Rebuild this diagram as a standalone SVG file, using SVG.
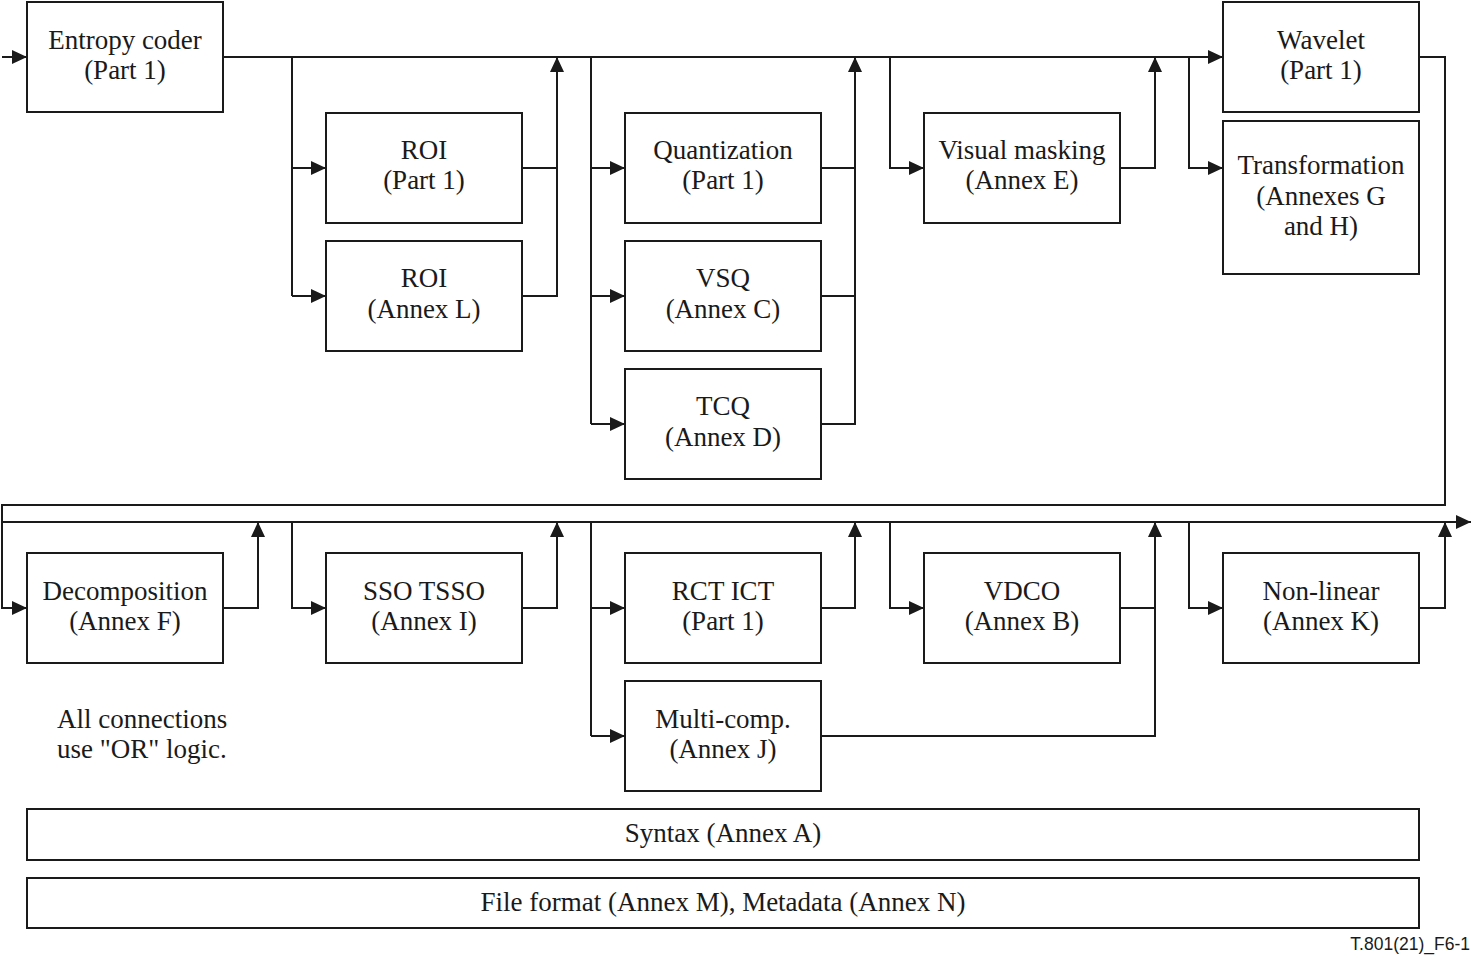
<svg xmlns="http://www.w3.org/2000/svg" width="1471" height="955" viewBox="0 0 1471 955">
<style>
.box{fill:#fff;stroke:#1a1a1a;stroke-width:2}
.ln{fill:none;stroke:#1a1a1a;stroke-width:2}
.t{font-family:"Liberation Serif","Times New Roman",serif;font-size:27px;fill:#1a1a1a;text-anchor:middle}
.tl{font-family:"Liberation Serif","Times New Roman",serif;font-size:27px;fill:#1a1a1a}
.f{font-family:"Liberation Sans",Arial,sans-serif;font-size:17.5px;fill:#1a1a1a;text-anchor:end}
</style>
<defs>
<marker id="ah" viewBox="0 0 15 14" refX="15" refY="7" markerWidth="15" markerHeight="14" markerUnits="userSpaceOnUse" orient="auto">
<path d="M0,0 L15,7 L0,14 Z" fill="#1a1a1a"/>
</marker>
</defs>
<rect width="1471" height="955" fill="#fff"/>
<g id="connectors" class="ln">
<path d="M2,57 H27" marker-end="url(#ah)"/>
<path d="M223,57 H1223" marker-end="url(#ah)"/>
<path d="M292,57 V296"/>
<path d="M292,168 H326" marker-end="url(#ah)"/>
<path d="M292,296 H326" marker-end="url(#ah)"/>
<path d="M522,168 H557"/>
<path d="M522,296 H557 V57" marker-end="url(#ah)"/>
<path d="M591,57 V424"/>
<path d="M591,168 H625" marker-end="url(#ah)"/>
<path d="M591,296 H625" marker-end="url(#ah)"/>
<path d="M591,424 H625" marker-end="url(#ah)"/>
<path d="M821,168 H855"/>
<path d="M821,296 H855"/>
<path d="M821,424 H855 V57" marker-end="url(#ah)"/>
<path d="M890,57 V168 H924" marker-end="url(#ah)"/>
<path d="M1120,168 H1155 V57" marker-end="url(#ah)"/>
<path d="M1189,57 V168 H1223" marker-end="url(#ah)"/>
<path d="M1419,57 H1445 V505 H2 V608 H27" marker-end="url(#ah)"/>
<path d="M2,522 H1471" marker-end="url(#ah)"/>
<path d="M223,608 H258 V522" marker-end="url(#ah)"/>
<path d="M292,522 V608 H326" marker-end="url(#ah)"/>
<path d="M522,608 H557 V522" marker-end="url(#ah)"/>
<path d="M591,522 V736"/>
<path d="M591,608 H625" marker-end="url(#ah)"/>
<path d="M591,736 H625" marker-end="url(#ah)"/>
<path d="M821,608 H855 V522" marker-end="url(#ah)"/>
<path d="M890,522 V608 H924" marker-end="url(#ah)"/>
<path d="M1120,608 H1155"/>
<path d="M821,736 H1155 V522" marker-end="url(#ah)"/>
<path d="M1189,522 V608 H1223" marker-end="url(#ah)"/>
<path d="M1419,608 H1445 V522" marker-end="url(#ah)"/>
</g>
<g id="entropy"><rect class="box" x="27" y="2" width="196" height="110"/><text class="t" x="125" y="49">Entropy coder</text><text class="t" x="125" y="79">(Part 1)</text></g>
<g id="roi1"><rect class="box" x="326" y="113" width="196" height="110"/><text class="t" x="424" y="159">ROI</text><text class="t" x="424" y="189">(Part 1)</text></g>
<g id="roiL"><rect class="box" x="326" y="241" width="196" height="110"/><text class="t" x="424" y="287">ROI</text><text class="t" x="424" y="318">(Annex L)</text></g>
<g id="quant"><rect class="box" x="625" y="113" width="196" height="110"/><text class="t" x="723" y="159">Quantization</text><text class="t" x="723" y="189">(Part 1)</text></g>
<g id="vsq"><rect class="box" x="625" y="241" width="196" height="110"/><text class="t" x="723" y="287">VSQ</text><text class="t" x="723" y="318">(Annex C)</text></g>
<g id="tcq"><rect class="box" x="625" y="369" width="196" height="110"/><text class="t" x="723" y="415">TCQ</text><text class="t" x="723" y="446">(Annex D)</text></g>
<g id="vmask"><rect class="box" x="924" y="113" width="196" height="110"/><text class="t" x="1022" y="159">Visual masking</text><text class="t" x="1022" y="189">(Annex E)</text></g>
<g id="wavelet"><rect class="box" x="1223" y="2" width="196" height="110"/><text class="t" x="1321" y="49">Wavelet</text><text class="t" x="1321" y="79">(Part 1)</text></g>
<g id="transform"><rect class="box" x="1223" y="121" width="196" height="153"/><text class="t" x="1321" y="174">Transformation</text><text class="t" x="1321" y="205">(Annexes G</text><text class="t" x="1321" y="235">and H)</text></g>
<g id="decomp"><rect class="box" x="27" y="553" width="196" height="110"/><text class="t" x="125" y="600">Decomposition</text><text class="t" x="125" y="630">(Annex F)</text></g>
<g id="sso"><rect class="box" x="326" y="553" width="196" height="110"/><text class="t" x="424" y="600">SSO TSSO</text><text class="t" x="424" y="630">(Annex I)</text></g>
<g id="rct"><rect class="box" x="625" y="553" width="196" height="110"/><text class="t" x="723" y="600">RCT ICT</text><text class="t" x="723" y="630">(Part 1)</text></g>
<g id="multicomp"><rect class="box" x="625" y="681" width="196" height="110"/><text class="t" x="723" y="728">Multi-comp.</text><text class="t" x="723" y="758">(Annex J)</text></g>
<g id="vdco"><rect class="box" x="924" y="553" width="196" height="110"/><text class="t" x="1022" y="600">VDCO</text><text class="t" x="1022" y="630">(Annex B)</text></g>
<g id="nonlinear"><rect class="box" x="1223" y="553" width="196" height="110"/><text class="t" x="1321" y="600">Non-linear</text><text class="t" x="1321" y="630">(Annex K)</text></g>
<g id="syntax"><rect class="box" x="27" y="809" width="1392" height="51"/><text class="t" x="723" y="842">Syntax (Annex A)</text></g>
<g id="fileformat"><rect class="box" x="27" y="878" width="1392" height="50"/><text class="t" x="723" y="911">File format (Annex M), Metadata (Annex N)</text></g>
<g id="note"><text class="tl" x="57" y="728">All connections</text><text class="tl" x="57" y="758">use "OR" logic.</text></g>
<text class="f" x="1470" y="950">T.801(21)_F6-1</text>
</svg>
